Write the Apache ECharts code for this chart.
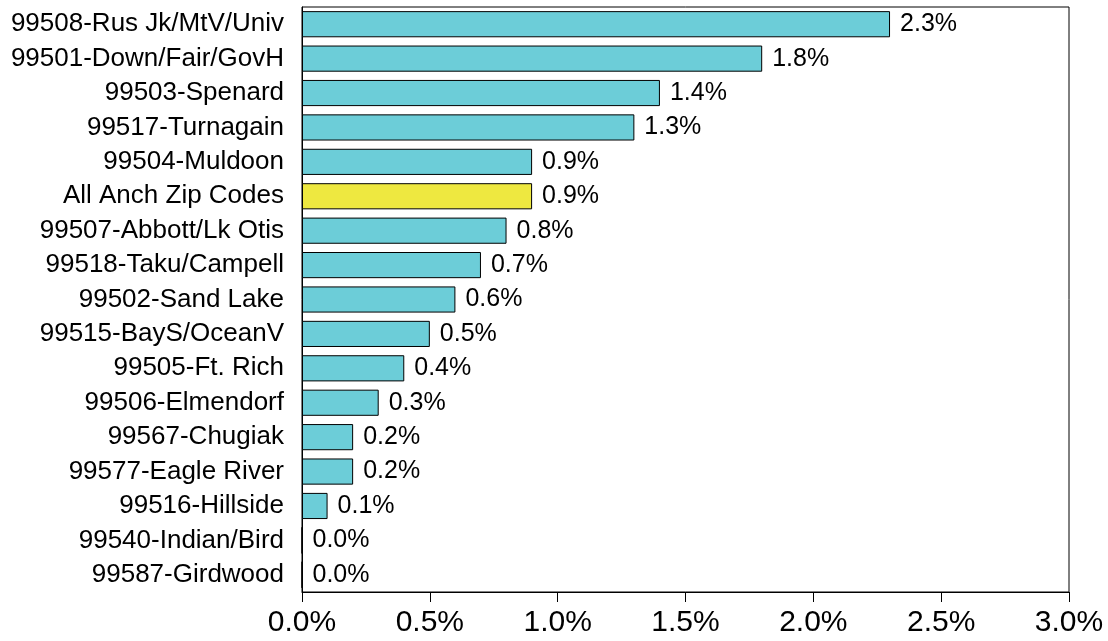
<!DOCTYPE html>
<html>
<head>
<meta charset="utf-8">
<script src="https://cdn.jsdelivr.net/npm/echarts@6/dist/echarts.min.js"></script>
<style>
html, body { margin: 0; padding: 0; background: #fff; }
#chart { width: 1108px; height: 641px; }
</style>
</head>
<body>
<div id="chart"></div>
<script>
var zipNames = ['99508-Rus Jk/MtV/Univ', '99501-Down/Fair/GovH', '99503-Spenard', '99517-Turnagain',
	'99504-Muldoon', 'All Anch Zip Codes', '99507-Abbott/Lk Otis', '99518-Taku/Campell',
	'99502-Sand Lake', '99515-BayS/OceanV', '99505-Ft. Rich', '99506-Elmendorf',
	'99567-Chugiak', '99577-Eagle River', '99516-Hillside', '99540-Indian/Bird', '99587-Girdwood'];
var pctValues = [2.3, 1.8, 1.4, 1.3, 0.9, 0.9, 0.8, 0.7, 0.6, 0.5, 0.4, 0.3, 0.2, 0.2, 0.1, 0.0, 0.0];
var highlightName = 'All Anch Zip Codes';

var font = 'Liberation Sans, Arial, sans-serif';

var chart = echarts.init(document.getElementById('chart'));

var barData = [];
for (var i = 0; i < pctValues.length; i++) {
	barData.push({
		value : pctValues[i],
		itemStyle : {
			color : zipNames[i] == highlightName ? '#eee840' : '#6ccdd8'
		}
	});
}

chart.setOption({
	animation : false,
	grid : {
		left : 302,
		right : 39,
		top : 7,
		bottom : 49,
		show : true,
		borderColor : '#000',
		borderWidth : 1
	},
	xAxis : {
		type : 'value',
		min : 0,
		max : 3,
		interval : 0.5,
		splitLine : { show : false },
		axisLine : { show : true, lineStyle : { color : '#000' } },
		axisTick : { show : true, length : 10, lineStyle : { color : '#000' } },
		axisLabel : {
			color : '#000',
			fontFamily : font,
			fontSize : 30,
			margin : 16,
			formatter : function(v) { return v.toFixed(1) + '%'; }
		}
	},
	yAxis : {
		type : 'category',
		inverse : true,
		data : zipNames,
		axisLine : { show : true, lineStyle : { color : '#000' } },
		axisTick : { show : false },
		axisLabel : {
			color : '#000',
			fontFamily : font,
			fontSize : 26,
			margin : 18
		}
	},
	series : [{
		type : 'bar',
		data : barData,
		barCategoryGap : '24%',
		itemStyle : { borderColor : '#000', borderWidth : 1 },
		label : {
			show : true,
			position : 'right',
			distance : 10,
			color : '#000',
			fontFamily : font,
			fontSize : 25,
			formatter : function(p) { return p.value.toFixed(1) + '%'; }
		}
	}]
});
</script>
</body>
</html>
